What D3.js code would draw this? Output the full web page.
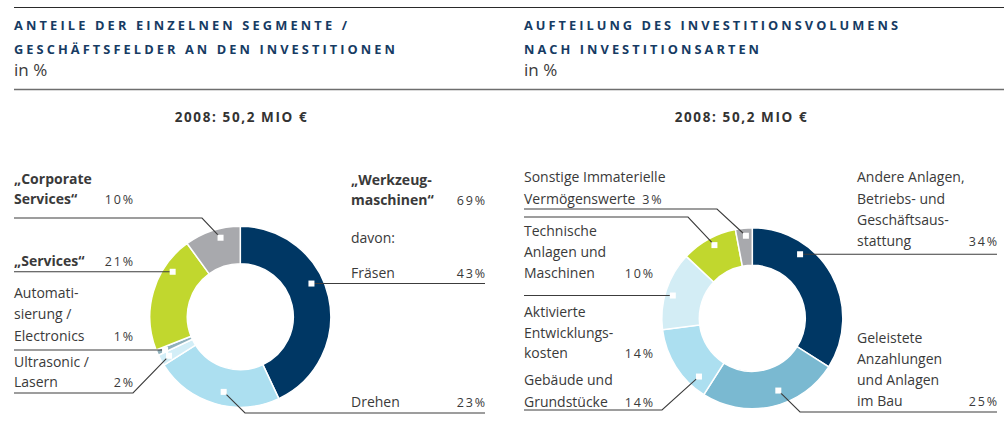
<!DOCTYPE html>
<html><head><meta charset="utf-8">
<script src="https://cdn.jsdelivr.net/npm/d3@7"></script>
<style>
html,body{margin:0;padding:0;background:#fff;}
svg{display:block;}
.lbl{font-family:"Open Sans",sans-serif;font-size:14px;fill:#3a3a3a;}
.b{font-weight:700;}
.pct{font-size:12.5px;letter-spacing:1.8px;font-weight:400;}
.ttl{font-family:"Open Sans",sans-serif;font-size:12.8px;font-weight:700;fill:#163b63;}
.unit{font-family:"Open Sans",sans-serif;font-size:17px;fill:#3a3a3a;}
.tot{font-family:"Open Sans",sans-serif;font-size:13.5px;font-weight:700;fill:#333;letter-spacing:1.6px;}
</style></head><body>
<svg id="c" width="1004" height="439"></svg>
<script>
// ---------- data ----------
const leftTitle = ["ANTEILE DER EINZELNEN SEGMENTE /", "GESCHÄFTSFELDER AN DEN INVESTITIONEN"];
const rightTitle = ["AUFTEILUNG DES INVESTITIONSVOLUMENS", "NACH INVESTITIONSARTEN"];
const unitLabel = "in %";
const totalLabel = "2008: 50,2 MIO €";
const leftCategories = ["Fräsen", "Drehen", "Ultrasonic /\nLasern", "Automati-\nsierung /\nElectronics", "„Services“", "„Corporate\nServices“"];
const leftValues = [43, 23, 2, 1, 21, 10];
const leftGroupLabel = "„Werkzeug-\nmaschinen“";
const leftGroupMembers = ["Fräsen", "Drehen", "Ultrasonic /\nLasern", "Automati-\nsierung /\nElectronics"];
const leftGroupNote = "davon:";
const rightCategories = ["Andere Anlagen,\nBetriebs- und\nGeschäftsaus-\nstattung", "Geleistete\nAnzahlungen\nund Anlagen\nim Bau", "Gebäude und\nGrundstücke", "Aktivierte\nEntwicklungs-\nkosten", "Technische\nAnlagen und\nMaschinen", "Sonstige Immaterielle\nVermögenswerte"];
const rightValues = [34, 25, 14, 14, 10, 3];

// ---------- styles ----------
const leftColors = ["#003764", "#acdff0", "#d3eef7", "#8fb0bb", "#c1d72e", "#a8a9ad"];
const rightColors = ["#003764", "#7ab9d1", "#acdff0", "#d3edf5", "#c1d72e", "#a8a9ad"];

// ---------- layout ----------
const leftChart = {cx: 240.3, cy: 316.7, titleX: 14, totalX: 241.5};
const rightChart = {cx: 752.3, cy: 318.3, titleX: 524, totalX: 741.5};
const titleLens = [[333, 381], [374, 235]];
const leftLayout = [
  {side: "r", x: 351, ys: [278.3], pctX: 485, lead: {x: 485, y: null}, t: 0.42, r: 78.5},
  {side: "r", x: 351, ys: [407.3], pctX: 485, lead: {x: 485, y: 413, knee: 245}, t: 0.455, r: 77},
  {side: "l", x: 14, ys: [366.5, 387], pctX: 133, lead: {x: 14, y: 393, knee: 133}, t: 0.51, r: 81.3},
  {side: "l", x: 14, ys: [298.3, 319.3, 340.5], pctX: 133, lead: {x: 14, y: null}, t: 0.36, r: 82.3},
  {side: "l", x: 14, ys: [266], pctX: 133, bold: true, lead: {x: 14, y: null}, t: 0.73, r: 81.2},
  {side: "l", x: 14, ys: [184, 204], pctX: 133, bold: true, lead: {x: 14, y: 218, knee: 202}, t: 0.61, r: 81.4}
];
const leftGroupLayout = {x: 351, ys: [185, 205], pctX: 485, noteY: 243.3};
const rightLayout = [
  {side: "r", x: 857, ys: [181.7, 203.5, 225, 246], pctX: 997, lead: {x: 997, y: null}, t: 0.30, r: 79.9},
  {side: "r", x: 857, ys: [342.7, 363.8, 385, 406], pctX: 997, lead: {x: 997, y: 412, knee: 800}, t: 0.42, r: 76.8},
  {side: "l", x: 524, ys: [385, 406.5], pctX: 653, lead: {x: 524, y: 410, knee: 662}, t: 0.2, r: 79},
  {side: "l", x: 524, ys: [316.7, 337.5, 358.3], pctX: 653, lead: {x: 524, y: null}, t: 0.46, r: 82.7},
  {side: "l", x: 524, ys: [236, 257, 278.3], pctX: 653, lead: {x: 524, y: 217, knee: 688}, t: 0.54, r: 82.4},
  {side: "l", x: 524, ys: [181.7, 204], inline: true, lead: {x: 524, y: 209, knee: 717}, t: 0.59, r: 82.8}
];
const R_OUT = 90.5, R_IN = 53, MK = 6;

const svg = d3.select("#c");

// rules
svg.append("line").attr("x1", 14).attr("x2", 1004).attr("y1", 7.5).attr("y2", 7.5)
  .attr("stroke", "#2a2a2a").attr("stroke-width", 1);
svg.append("line").attr("x1", 14).attr("x2", 1004).attr("y1", 89.5).attr("y2", 89.5)
  .attr("stroke", "#6e6e6e").attr("stroke-width", 1.5);

function header(chart, title, lens) {
  title.forEach((t, i) => {
    svg.append("text").attr("class", "ttl").attr("x", chart.titleX).attr("y", 29.5 + i * 24)
      .attr("textLength", lens[i]).attr("lengthAdjust", "spacing").text(t);
  });
  svg.append("text").attr("class", "unit").attr("x", chart.titleX).attr("y", 76).text(unitLabel);
  svg.append("text").attr("class", "tot").attr("x", chart.totalX).attr("y", 122)
    .attr("text-anchor", "middle").text(totalLabel);
}
header(leftChart, leftTitle, [titleLens[0][0], titleLens[0][1]]);
header(rightChart, rightTitle, [titleLens[1][0], titleLens[1][1]]);

function donut(chart, cats, vals, colors, layout) {
  const data = cats.map((c, i) => ({cat: c, value: vals[i]}));
  const pie = d3.pie().sort(null).value(d => d.value).startAngle(0).endAngle(2 * Math.PI);
  const arcs = pie(data);
  const arc = d3.arc().innerRadius(R_IN).outerRadius(R_OUT);
  const g = svg.append("g").attr("transform", `translate(${chart.cx},${chart.cy})`);
  g.selectAll("path").data(arcs).join("path")
    .attr("d", arc).attr("fill", (d, i) => colors[i])
    .attr("stroke", "#fff").attr("stroke-width", 1.5);

  const leaders = svg.append("g");
  const markers = svg.append("g");
  arcs.forEach((a, i) => {
    const L = layout[i];
    const ang = a.startAngle + L.t * (a.endAngle - a.startAngle);
    const mx = chart.cx + L.r * Math.sin(ang);
    const my = chart.cy - L.r * Math.cos(ang);
    const ld = L.lead;
    let pts;
    if (L.side === "l") {
      pts = ld.y == null ? [[ld.x, my], [mx, my]] : [[ld.x, ld.y], [ld.knee, ld.y], [mx, my]];
    } else {
      pts = ld.y == null ? [[mx, my], [ld.x, my]] : [[mx, my], [ld.knee, ld.y], [ld.x, ld.y]];
    }
    leaders.append("path").attr("d", d3.line()(pts)).attr("fill", "none")
      .attr("stroke", "#3c3c3c").attr("stroke-width", 1.1);
    markers.append("rect").attr("x", mx - MK / 2).attr("y", my - MK / 2)
      .attr("width", MK).attr("height", MK).attr("fill", "#fff");

    const lines = a.data.cat.split("\n");
    lines.forEach((ln, j) => {
      const t = svg.append("text").attr("class", "lbl" + (L.bold ? " b" : ""))
        .attr("x", L.x).attr("y", L.ys[j]).text(ln);
      if (j === lines.length - 1 && L.inline) {
        t.append("tspan").attr("class", "pct").attr("dx", 7).text(a.data.value + "%");
      }
    });
    if (!L.inline) {
      svg.append("text").attr("class", "lbl pct").attr("x", L.pctX + 1.8)
        .attr("y", L.ys[L.ys.length - 1]).attr("text-anchor", "end").text(a.data.value + "%");
    }
  });
}
donut(leftChart, leftCategories, leftValues, leftColors, leftLayout);
donut(rightChart, rightCategories, rightValues, rightColors, rightLayout);

// group label (sum of members)
const groupSum = d3.sum(leftGroupMembers, m => leftValues[leftCategories.indexOf(m)]);
const gl = leftGroupLabel.split("\n");
gl.forEach((ln, j) => {
  svg.append("text").attr("class", "lbl b").attr("x", leftGroupLayout.x).attr("y", leftGroupLayout.ys[j]).text(ln);
});
svg.append("text").attr("class", "lbl pct").attr("x", leftGroupLayout.pctX + 1.8)
  .attr("y", leftGroupLayout.ys[gl.length - 1]).attr("text-anchor", "end").text(groupSum + "%");
svg.append("text").attr("class", "lbl").attr("x", leftGroupLayout.x).attr("y", leftGroupLayout.noteY).text(leftGroupNote);
</script>
</body></html>
